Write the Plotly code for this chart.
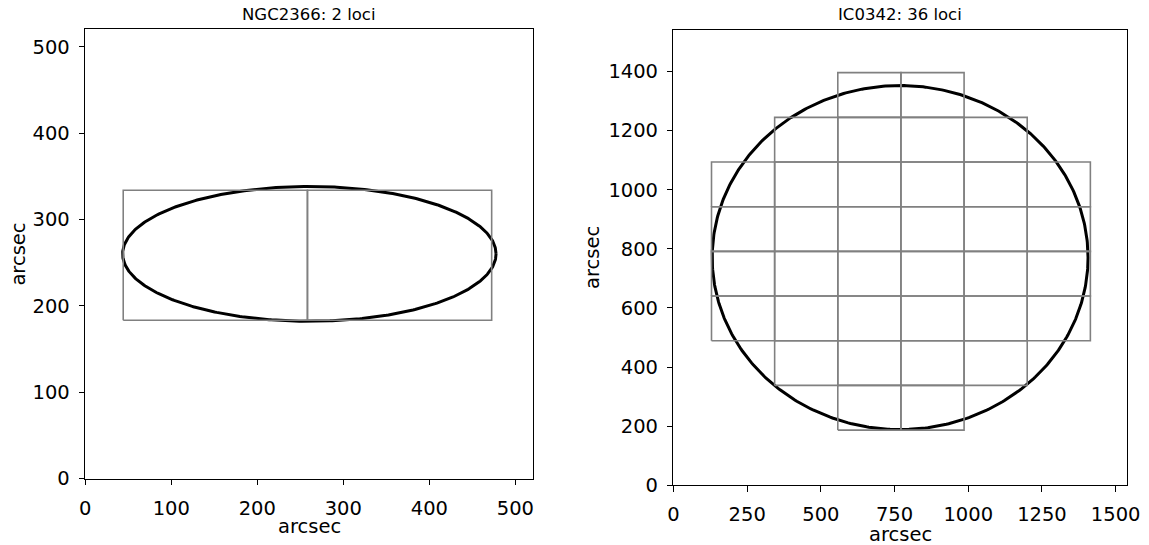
import numpy as np
import plotly.graph_objects as go

# ---------------- data ----------------
titles = ["NGC2366: 2 loci", "IC0342: 36 loci"]
axis_label = "arcsec"

# NGC2366 loci grid (arcsec)
ngc_x_edges = [44.2, 258.3, 472.4]
ngc_y_edges = [183.3, 333.8]
ngc_row_first_col = [0]
ngc_row_last_col = [1]
ngc_ellipse_center = [260.5, 260.2]
ngc_ellipse_axes = [217.0, 78.0]
ngc_xticks = [0, 100, 200, 300, 400, 500]
ngc_yticks = [0, 100, 200, 300, 400, 500]
ngc_range = [0, 521]

# IC0342 loci grid (arcsec)
ic_x_edges = [129.0, 343.2, 557.4, 771.6, 985.8, 1200.0, 1414.2]
ic_y_edges = [186.7, 337.9, 489.1, 640.3, 791.5, 942.7, 1093.9, 1245.1, 1396.3]
ic_row_first_col = [2, 1, 0, 0, 0, 0, 1, 2]
ic_row_last_col = [3, 4, 5, 5, 5, 5, 4, 3]
ic_ellipse_center = [768.8, 770.6]
ic_ellipse_axes = [637.5, 582.0]
ic_xticks = [0, 250, 500, 750, 1000, 1250, 1500]
ic_yticks = [0, 200, 400, 600, 800, 1000, 1200, 1400]
ic_range = [0, 1540]

# ---------------- helpers ----------------
W, H = 1149, 545
FONT = "DejaVu Sans"
# small correction from wanted picture pixels to page pixels
SX, OX = 0.9835, 5.8
SY, OY = 0.975, 0.5


def PX(v):
    return (v - OX) / SX


def PY(v):
    return (v - OY) / SY


def grid_path(xe, ye, first, last):
    xs, ys = [], []
    for r in range(len(first)):
        for c in range(first[r], last[r] + 1):
            x0, x1 = xe[c], xe[c + 1]
            y0, y1 = ye[r], ye[r + 1]
            xs += [x0, x1, x1, x0, x0, None]
            ys += [y0, y0, y1, y1, y0, None]
    return xs, ys


def ellipse_path(center, axes):
    t = np.linspace(0, 2 * np.pi, 500)
    return center[0] + axes[0] * np.cos(t), center[1] + axes[1] * np.sin(t)


fig = go.Figure()

panels = [
    ("x", "y", ngc_x_edges, ngc_y_edges, ngc_row_first_col, ngc_row_last_col,
     ngc_ellipse_center, ngc_ellipse_axes),
    ("x2", "y2", ic_x_edges, ic_y_edges, ic_row_first_col, ic_row_last_col,
     ic_ellipse_center, ic_ellipse_axes),
]
for xa, ya, xe, ye, f, l, cen, ax in panels:
    ex, ey = ellipse_path(cen, ax)
    fig.add_trace(go.Scatter(x=ex, y=ey, mode="lines", xaxis=xa, yaxis=ya,
                             line=dict(color="black", width=3.0),
                             hoverinfo="skip"))
    gx, gy = grid_path(xe, ye, f, l)
    fig.add_trace(go.Scatter(x=gx, y=gy, mode="lines", xaxis=xa, yaxis=ya,
                             line=dict(color="#808080", width=1.6),
                             hoverinfo="skip"))

TICKFONT = 19.5


def axis_style(ticks, rng, domain, anchor, standoff):
    return dict(
        domain=domain, anchor=anchor, range=rng, tickmode="array",
        tickvals=ticks, ticktext=[str(t) for t in ticks],
        showline=True, linecolor="black", linewidth=1.1, mirror=True,
        ticks="outside", ticklen=5.5, tickwidth=1.1, tickcolor="black",
        showgrid=False, zeroline=False, fixedrange=True,
        ticklabelstandoff=standoff, ticklabeloverflow="allow",
        tickfont=dict(family=FONT, size=TICKFONT, color="black"),
    )


# wanted picture-pixel boxes of the axes (left, right, top, bottom)
box1 = (85.0, 533.3, 29.0, 477.7)
box2 = (673.3, 1127.3, 30.6, 484.3)


def xdom(b):
    return [PX(b[0]) / W, PX(b[1]) / W]


def ydom(b):
    return [1 - PY(b[3]) / H, 1 - PY(b[2]) / H]


fig.update_layout(
    width=W, height=H, autosize=False,
    margin=dict(l=0, r=0, t=0, b=0, pad=0),
    paper_bgcolor="white", plot_bgcolor="white",
    showlegend=False,
    xaxis=axis_style(ngc_xticks, ngc_range, xdom(box1), "y", 6),
    yaxis=axis_style(ngc_yticks, ngc_range, ydom(box1), "x", 5),
    xaxis2=axis_style(ic_xticks, ic_range, xdom(box2), "y2", 6),
    yaxis2=axis_style(ic_yticks, ic_range, ydom(box2), "x2", 5),
)


def ann(text, xpic, ypic, size, angle=0):
    fig.add_annotation(text=text, x=PX(xpic) / W, y=1 - PY(ypic) / H,
                       xref="paper", yref="paper", xanchor="center",
                       yanchor="middle", showarrow=False, textangle=angle,
                       font=dict(family=FONT, size=size, color="black"))


ann(titles[0], (box1[0] + box1[1]) / 2, 15, 16.5)
ann(titles[1], (box2[0] + box2[1]) / 2, 15, 16.5)
ann(axis_label, (box1[0] + box1[1]) / 2, 525.5, 19.5)
ann(axis_label, (box2[0] + box2[1]) / 2, 533, 19.5)
ann(axis_label, 18.8, (box1[2] + box1[3]) / 2, 19.5, -90)
ann(axis_label, 593, (box2[2] + box2[3]) / 2, 19.5, -90)

fig.write_html("out.html", config={"displayModeBar": False},
               post_script="document.body.style.margin='0';"
                           "document.body.style.overflow='hidden';")
